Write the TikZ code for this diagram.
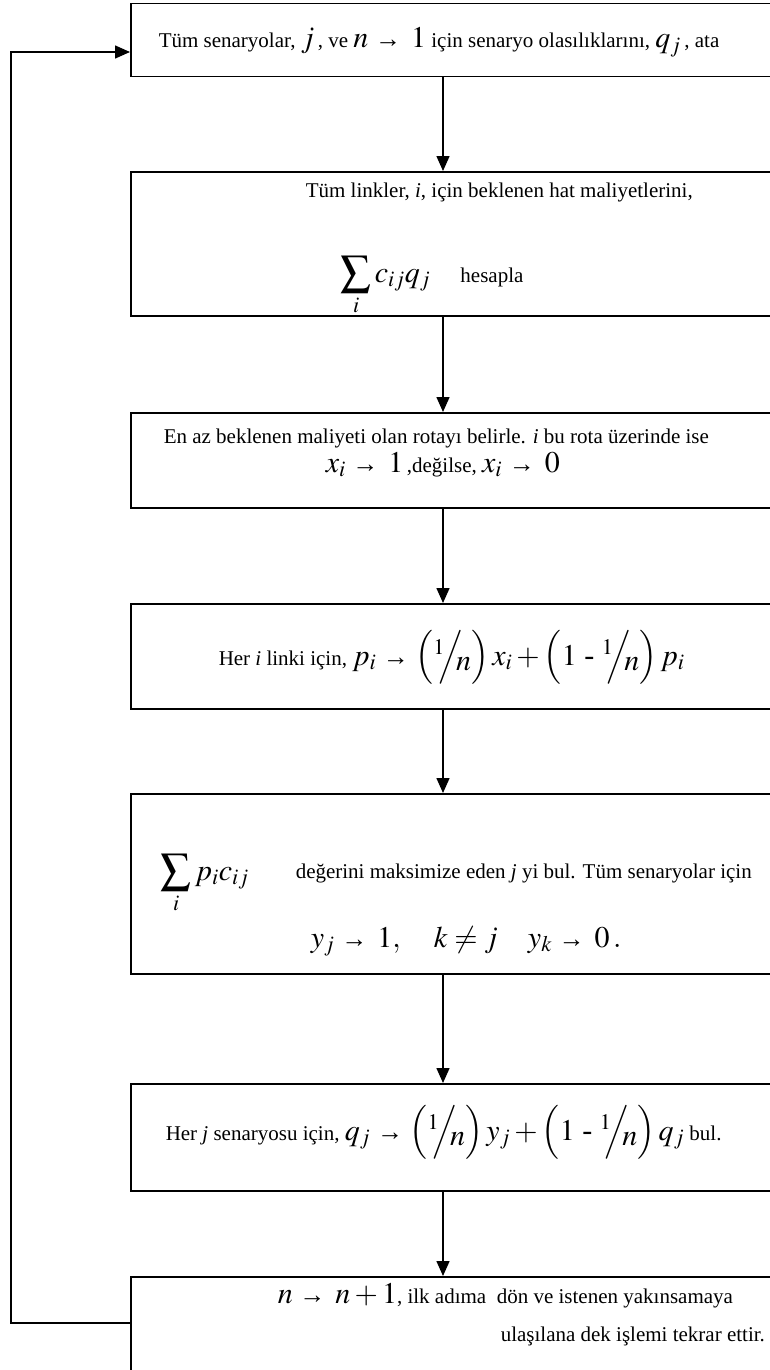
\documentclass[tikz,border=0pt]{standalone}
\usepackage{amsmath,amssymb}
\usepackage{mathptmx}
\usepackage{fontspec}
\setmainfont{Liberation Serif}
\usetikzlibrary{arrows.meta,positioning}

\newcommand{\eqn}[1]{{\fontsize{30}{34}\selectfont$#1$}}
\newcommand{\ra}{\mathrel{\text{\fontsize{26}{30}\selectfont →}}}
\newcommand{\slashn}{{}^{1}\!\!\Big/\!\!\lower5pt\hbox{$n$}}

\begin{document}
\begin{tikzpicture}[x=1pt, y=-1pt, font=\fontsize{21}{25}\selectfont, line width=1.5pt, >={Triangle[length=15pt,width=13pt]},
	box/.style={draw, minimum width=680pt, anchor=north west, inner sep=0pt},
	txt/.style={anchor=base west, inner sep=0pt}]
	\useasboundingbox (0,0) rectangle (770,1370);
	\clip (0,0) rectangle (770,1370);
	\coordinate (mid) at (443,0);
	\coordinate (lo) at (11,1323);
	\coordinate (li) at (11,52);
	\node[box, minimum height=73pt] (b1) at (130,3) {};
	\node[box, minimum height=144pt] (b2) at (130,171) {};
	\node[box, minimum height=95pt] (b3) at (130,412) {};
	\node[box, minimum height=105pt] (b4) at (130,603) {};
	\node[box, minimum height=180pt] (b5) at (130,793) {};
	\node[box, minimum height=107pt] (b6) at (130,1083) {};
	\node[box, minimum height=150pt] (b7) at (130,1276) {};
	\node[txt] (t1) at (158,48) {Tüm senaryolar,\ \eqn{j}\,, ve \eqn{n\ra\,1} için senaryo olasılıklarını,\ \eqn{q_j}\,, ata};
	\node[txt] (t2a) at (305,197) {Tüm linkler, \textit{i}, için beklenen hat maliyetlerini,};
	\node[txt] (t2b) at (340,282) {\eqn{\displaystyle\sum_i c_{ij}q_j}\hspace{30pt}hesapla};
	\node[txt] (t3a) at (163,443) {En az beklenen maliyeti olan rotayı belirle. \textit{i} bu rota üzerinde ise};
	\node[txt] (t3b) at (325,472) {\eqn{x_i\ra\,1}\,,değilse,\ \eqn{x_i\ra\,0}};
	\node[txt] (t4) at (218,665) {Her \textit{i} linki için,\ \eqn{p_i\ra\left(\slashn\right)x_i+\left(1\mbox{ - }\slashn\right)p_i}};
	\node[txt] (t5a) at (160,880) {\eqn{\displaystyle\sum_i p_ic_{ij}}};
	\node[txt] (t5b) at (295,878) {değerini maksimize eden \textit{j} yi bul. Tüm senaryolar için};
	\node[txt] (t5c) at (310,947) {\eqn{y_j\ra\,1,\quad k\neq j\quad y_k\ra\,0\,.}};
	\node[txt] (t6) at (165,1140) {Her \textit{j} senaryosu için,\ \eqn{q_j\ra\left(\slashn\right)y_j+\left(1\mbox{ - }\slashn\right)q_j} bul.};
	\node[txt] (t7a) at (277,1303) {\eqn{n\ra\,n+1}, ilk adıma\ \ dön ve istenen yakınsamaya};
	\node[txt] (t7b) at (500,1341) {ulaşılana dek işlemi tekrar ettir.};
	\foreach \a/\b in {b1/b2,b2/b3,b3/b4,b4/b5,b5/b6,b6/b7}
		\draw[->] (\a.south -| mid) -- (\b.north -| mid);
	\draw[->] (b7.west |- lo) -- (lo) -- (li) -- (b1.west |- li);
\end{tikzpicture}
\end{document}
